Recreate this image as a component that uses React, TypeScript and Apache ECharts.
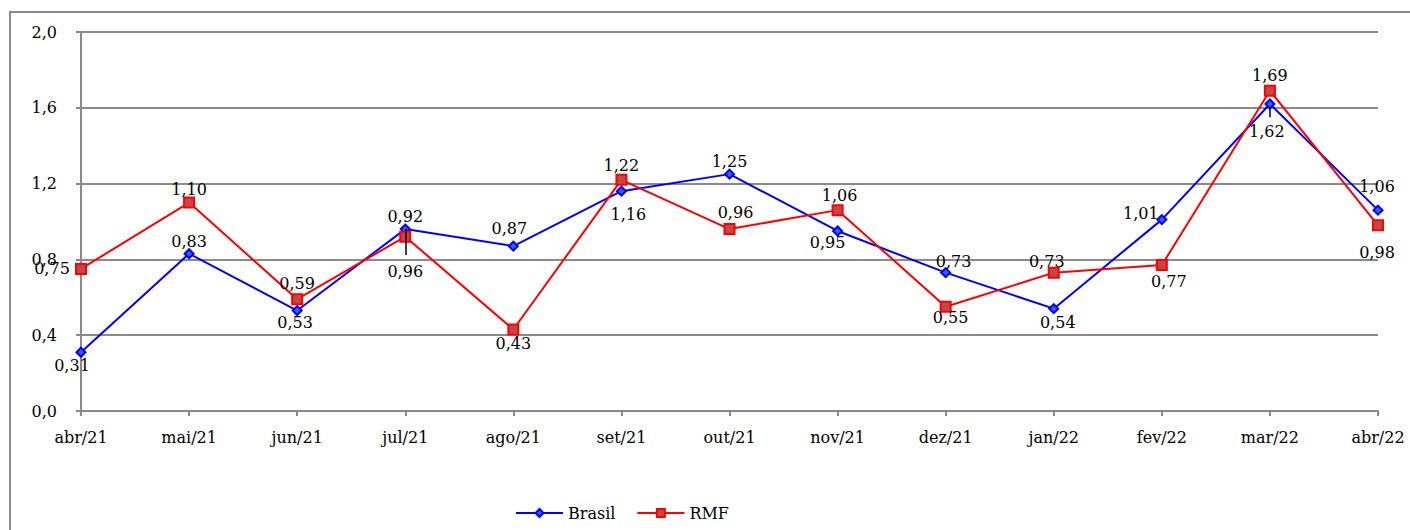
import React, { useEffect, useRef } from "react";
import * as echarts from "echarts";

const categories = [
  "abr/21", "mai/21", "jun/21", "jul/21", "ago/21", "set/21", "out/21",
  "nov/21", "dez/21", "jan/22", "fev/22", "mar/22", "abr/22",
];
const brasil = [0.31, 0.83, 0.53, 0.96, 0.87, 1.16, 1.25, 0.95, 0.73, 0.54, 1.01, 1.62, 1.06];
const rmf = [0.75, 1.1, 0.59, 0.92, 0.43, 1.22, 0.96, 1.06, 0.55, 0.73, 0.77, 1.69, 0.98];
const yTicks = { min: 0, max: 2, interval: 0.4 };

// label placement (pixel offsets from each point), layout only
const brasilLabelOffset: number[][] = [
  [-9, 13], [0, -12], [-2, 12], [0, 42], [-4, -18], [7, 23], [0, -13],
  [-10, 12], [8, -11], [4, 14], [-21, -6], [-3, 27], [-1, -24],
];
const rmfLabelOffset: number[][] = [
  [-29, 0], [0, -13], [0, -16], [0, -20], [0, 14], [0, -14], [6, -17],
  [2, -15], [5, 11], [-7, -11], [7, 16], [0, -15], [-1, 27],
];
// leader lines for displaced Brasil labels: [category, from value, to value]
const leaders: [string, number, number][] = [
  ["jul/21", 0.96, 0.823],
  ["mar/22", 1.6, 1.55],
];

const FONT = "'DejaVu Serif', serif";
const GRAY = "#8a8a8a";

const fmt2 = (v: number) => v.toFixed(2).replace(".", ",");

export default function App() {
  const ref = useRef<HTMLDivElement>(null);
  useEffect(() => {
    document.body.style.margin = "0";
    if (!ref.current) return;
    const chart = echarts.init(ref.current, null, { renderer: "svg" });
    const labelBase = {
      show: true,
      position: "inside",
      align: "center",
      verticalAlign: "middle",
      color: "#000",
      fontFamily: FONT,
      fontSize: 16,
      formatter: (p: any) => fmt2(p.value),
    };
    chart.setOption({
      animation: false,
      backgroundColor: "#fff",
      textStyle: { fontFamily: FONT },
      graphic: [
        {
          type: "rect",
          shape: { x: 10, y: 12, width: 1420, height: 540 },
          style: { fill: "none", stroke: GRAY, lineWidth: 2 },
          silent: true,
        },
      ],
      grid: { left: 81, right: 32, top: 32, bottom: 119 },
      legend: {
        left: 510,
        top: 500,
        itemWidth: 47,
        itemHeight: 10,
        itemGap: 21,
        textStyle: { fontFamily: FONT, fontSize: 16, color: "#000" },
        data: ["Brasil", "RMF"],
      },
      xAxis: {
        type: "category",
        data: categories,
        boundaryGap: false,
        axisLine: { lineStyle: { color: GRAY, width: 2 } },
        axisTick: { show: true, length: 5, lineStyle: { color: GRAY, width: 2 } },
        axisLabel: {
          color: "#000",
          fontFamily: FONT,
          fontSize: 16,
          margin: 18,
          interval: 0,
        },
        splitLine: { show: false },
      },
      yAxis: {
        type: "value",
        min: yTicks.min,
        max: yTicks.max,
        interval: yTicks.interval,
        axisLine: { show: true, lineStyle: { color: GRAY, width: 2 } },
        axisTick: { show: true, length: 5, lineStyle: { color: GRAY, width: 2 } },
        axisLabel: {
          color: "#000",
          fontFamily: FONT,
          fontSize: 16,
          margin: 24,
          formatter: (v: number) => v.toFixed(1).replace(".", ","),
        },
        splitLine: { show: true, lineStyle: { color: GRAY, width: 2 } },
      },
      series: [
        {
          name: "Brasil",
          type: "line",
          data: brasil.map((v, i) => ({
            value: v,
            label: { ...labelBase, offset: brasilLabelOffset[i] },
          })),
          symbol: "diamond",
          symbolSize: 9,
          lineStyle: { color: "#0000ff", width: 2 },
          itemStyle: { color: "#3a5fd0", borderColor: "#0000ff", borderWidth: 2 },
          label: labelBase,
          markLine: {
            silent: true,
            symbol: "none",
            label: { show: false },
            lineStyle: { color: "#000", width: 1.5, type: "solid" },
            data: leaders.map(([c, a, b]) => [
              { coord: [c, a] },
              { coord: [c, b] },
            ]),
          },
          z: 2,
        },
        {
          name: "RMF",
          type: "line",
          data: rmf.map((v, i) => ({
            value: v,
            label: { ...labelBase, offset: rmfLabelOffset[i] },
          })),
          symbol: "rect",
          symbolSize: 10,
          lineStyle: { color: "#ff0000", width: 2 },
          itemStyle: { color: "#c04848", borderColor: "#ff0000", borderWidth: 2 },
          label: labelBase,
          z: 3,
        },
      ],
    });
    return () => chart.dispose();
  }, []);
  return <div ref={ref} style={{ width: 1410, height: 530 }} />;
}
